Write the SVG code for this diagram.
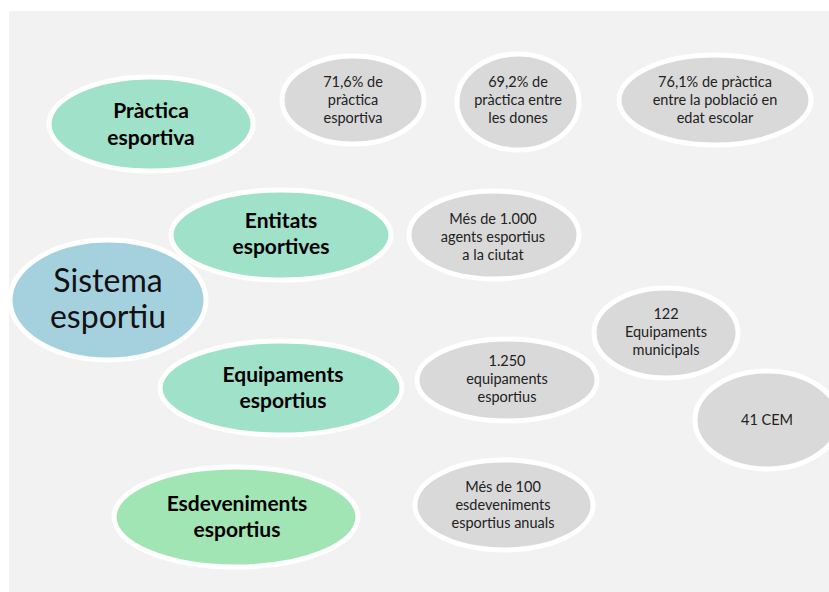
<svg xmlns="http://www.w3.org/2000/svg" width="829" height="592" viewBox="0 0 829 592">
<style>
.bg{fill:#f2f2f2}
.n{stroke:#ffffff;stroke-width:5}
.green{fill:#a0e1c9}
.green2{fill:#a1e5b5}
.blue{fill:#a5d1de}
.gray{fill:#d9d9d9}
text{font-family:Lato,"Open Sans","Liberation Sans",sans-serif;text-anchor:middle;fill:#1a1a1a}
.b{font-weight:bold;font-size:21px;fill:#000}
.s{font-size:14.5px;fill:#222}
.big{font-size:32px;fill:#111}
</style>
<rect class="bg" x="9" y="11" width="820" height="581"/>
<g id="practica">
<ellipse class="n green" cx="151" cy="124" rx="102" ry="47"/>
<text class="b" x="151" y="118">Pràctica</text>
<text class="b" x="151" y="145">esportiva</text>
</g>
<g id="p716">
<ellipse class="n gray" cx="353" cy="100" rx="71" ry="44"/>
<text class="s" x="353" y="87">71,6% de</text>
<text class="s" x="353" y="105">pràctica</text>
<text class="s" x="353" y="123">esportiva</text>
</g>
<g id="p692">
<ellipse class="n gray" cx="518" cy="102" rx="61" ry="48"/>
<text class="s" x="518" y="87">69,2% de</text>
<text class="s" x="518" y="105">pràctica entre</text>
<text class="s" x="518" y="123">les dones</text>
</g>
<g id="p761">
<ellipse class="n gray" cx="715" cy="100" rx="96" ry="45"/>
<text class="s" x="715" y="87">76,1% de pràctica</text>
<text class="s" x="715" y="105">entre la població en</text>
<text class="s" x="715" y="123">edat escolar</text>
</g>
<g id="entitats">
<ellipse class="n green" cx="281" cy="235" rx="110" ry="45"/>
<text class="b" x="281" y="228">Entitats</text>
<text class="b" x="281" y="254">esportives</text>
</g>
<g id="agents">
<ellipse class="n gray" cx="494" cy="235" rx="85" ry="44"/>
<text class="s" x="493" y="224">Més de 1.000</text>
<text class="s" x="493" y="242">agents esportius</text>
<text class="s" x="493" y="260">a la ciutat</text>
</g>
<g id="sistema">
<ellipse class="n blue" cx="108" cy="300" rx="98" ry="60"/>
<text class="big" x="108" y="292">Sistema</text>
<text class="big" x="108" y="328">esportiu</text>
</g>
<g id="municipals">
<ellipse class="n gray" cx="666" cy="333" rx="72" ry="45"/>
<text class="s" x="666" y="319">122</text>
<text class="s" x="666" y="337">Equipaments</text>
<text class="s" x="666" y="355">municipals</text>
</g>
<g id="equipaments">
<ellipse class="n green" cx="281" cy="388" rx="121" ry="47"/>
<text class="b" x="283" y="382">Equipaments</text>
<text class="b" x="283" y="408">esportius</text>
</g>
<g id="e1250">
<ellipse class="n gray" cx="507" cy="380" rx="90" ry="41"/>
<text class="s" x="507" y="366">1.250</text>
<text class="s" x="507" y="384">equipaments</text>
<text class="s" x="507" y="402">esportius</text>
</g>
<g id="cem">
<ellipse class="n gray" cx="767" cy="420" rx="72" ry="49"/>
<text class="s" x="767" y="425">41 CEM</text>
</g>
<g id="esdeveniments">
<ellipse class="n green2" cx="236" cy="517" rx="122" ry="50"/>
<text class="b" x="237" y="511">Esdeveniments</text>
<text class="b" x="237" y="537">esportius</text>
</g>
<g id="e100">
<ellipse class="n gray" cx="504" cy="505" rx="89" ry="45"/>
<text class="s" x="503" y="492">Més de 100</text>
<text class="s" x="503" y="510">esdeveniments</text>
<text class="s" x="503" y="528">esportius anuals</text>
</g>
</svg>
